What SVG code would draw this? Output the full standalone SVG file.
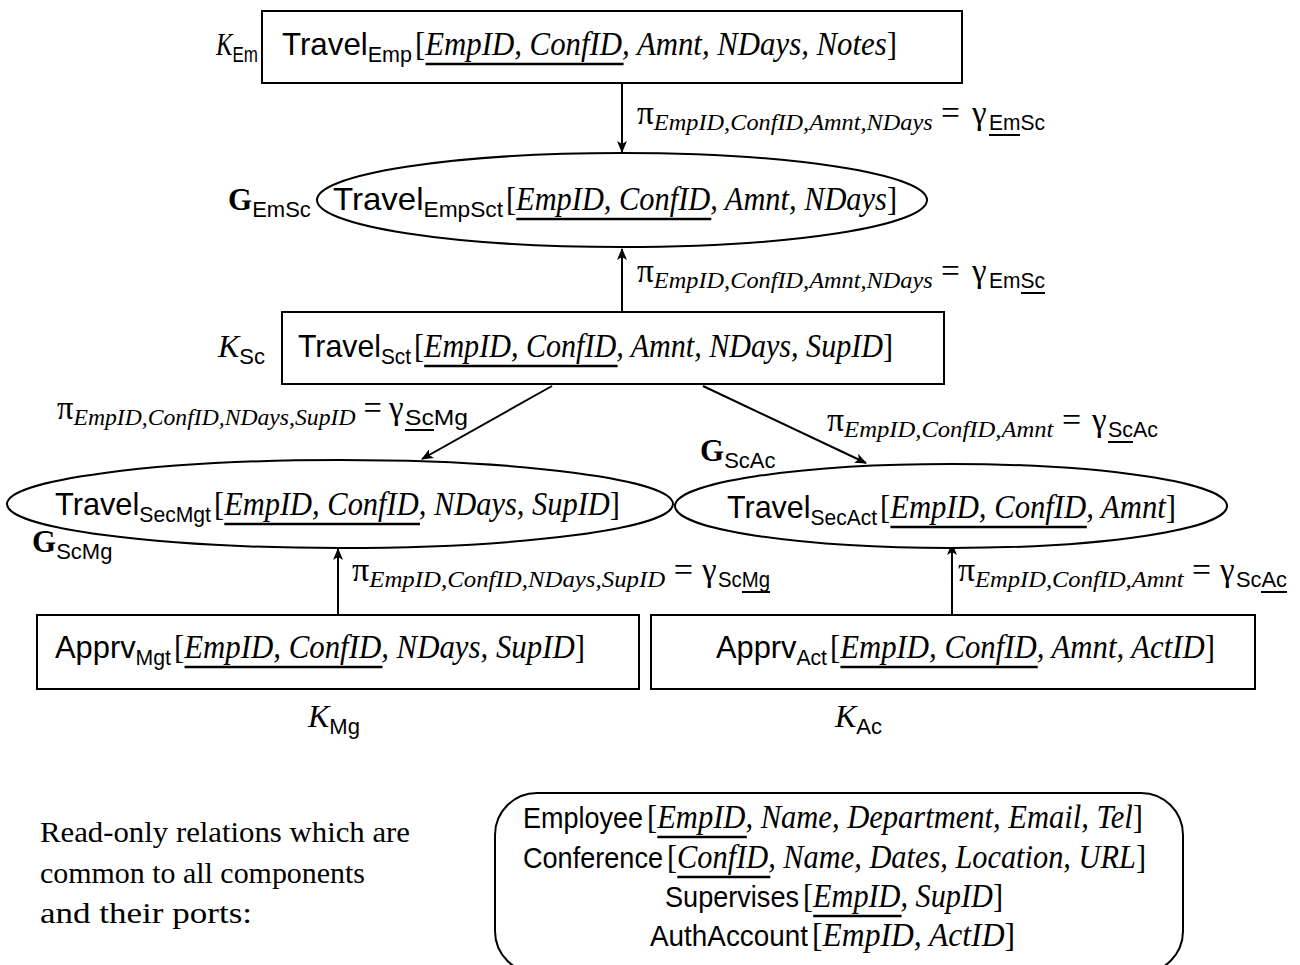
<svg xmlns="http://www.w3.org/2000/svg" width="1300" height="965" viewBox="0 0 1300 965">
<style>
text{fill:#000}
.sf{font-family:"Liberation Sans",Arial,sans-serif;font-size:32px}
.sb{font-family:"Liberation Sans",Arial,sans-serif;font-size:22px}
.it{font-family:"Liberation Serif","Times New Roman",serif;font-style:italic;font-size:34px}
.rm{font-family:"Liberation Serif","Times New Roman",serif;font-style:normal;font-size:34px}
.bf{font-family:"Liberation Serif","Times New Roman",serif;font-weight:bold;font-size:31px}
.k{font-family:"Liberation Serif","Times New Roman",serif;font-style:italic;font-size:32px}
.its{font-family:"Liberation Serif","Times New Roman",serif;font-style:italic;font-size:24px}
.gr{font-family:"Liberation Serif","Times New Roman",serif;font-style:normal;font-size:33px}
.tx{font-family:"Liberation Serif","Times New Roman",serif;font-size:30px}
.s2{font-family:"Liberation Sans",Arial,sans-serif;font-size:30px}
.i2{font-family:"Liberation Serif","Times New Roman",serif;font-style:italic;font-size:34px}
.r2{font-family:"Liberation Serif","Times New Roman",serif;font-style:normal;font-size:34px}
.shape{fill:#fff;stroke:#000;stroke-width:2}
.edge{fill:none;stroke:#000;stroke-width:2;marker-end:url(#arr)}
.ul{stroke:#000;stroke-width:2.4}
.uls{stroke:#000;stroke-width:2}
</style>
<defs>
<marker id="arr" viewBox="0 0 12 10" refX="11" refY="5" markerWidth="12" markerHeight="10" markerUnits="userSpaceOnUse" orient="auto">
<path d="M0,0 L12,5 L0,10 L3,5 z" fill="#000"/>
</marker>
</defs>

<g id="connectors">
<line class="edge" x1="622" y1="83" x2="622" y2="152"/>
<line class="edge" x1="622" y1="312" x2="622" y2="249"/>
<line class="edge" x1="552" y1="386" x2="422" y2="459"/>
<line class="edge" x1="703" y1="386" x2="866" y2="463"/>
<line class="edge" x1="338" y1="615" x2="338" y2="549"/>
<line class="edge" x1="952" y1="615" x2="952" y2="544"/>

<text x="637" y="124" textLength="323" lengthAdjust="spacingAndGlyphs"><tspan class="gr">π</tspan><tspan class="its" dy="6">EmpID,ConfID,Amnt,NDays</tspan><tspan class="gr" dy="-6"> =</tspan></text>
<text class="gr" x="972" y="124">γ</text>
<text class="sb" x="989" y="130" textLength="56" lengthAdjust="spacingAndGlyphs">EmSc</text>
<line class="uls" x1="989" y1="135" x2="1020" y2="135"/>

<text x="637" y="282" textLength="323" lengthAdjust="spacingAndGlyphs"><tspan class="gr">π</tspan><tspan class="its" dy="6">EmpID,ConfID,Amnt,NDays</tspan><tspan class="gr" dy="-6"> =</tspan></text>
<text class="gr" x="972" y="282">γ</text>
<text class="sb" x="989" y="288" textLength="56" lengthAdjust="spacingAndGlyphs">EmSc</text>
<line class="uls" x1="1021" y1="293" x2="1045" y2="293"/>

<text x="57" y="419" textLength="325" lengthAdjust="spacingAndGlyphs"><tspan class="gr">π</tspan><tspan class="its" dy="6">EmpID,ConfID,NDays,SupID</tspan><tspan class="gr" dy="-6"> =</tspan></text>
<text class="gr" x="389" y="419">γ</text>
<text class="sb" x="405" y="425" textLength="63" lengthAdjust="spacingAndGlyphs">ScMg</text>
<line class="uls" x1="405" y1="430" x2="434" y2="430"/>

<text x="827" y="431" textLength="254" lengthAdjust="spacingAndGlyphs"><tspan class="gr">π</tspan><tspan class="its" dy="6">EmpID,ConfID,Amnt</tspan><tspan class="gr" dy="-6"> =</tspan></text>
<text class="gr" x="1092" y="431">γ</text>
<text class="sb" x="1108" y="437" textLength="50" lengthAdjust="spacingAndGlyphs">ScAc</text>
<line class="uls" x1="1108" y1="442" x2="1133" y2="442"/>

<text x="352" y="581" textLength="341" lengthAdjust="spacingAndGlyphs"><tspan class="gr">π</tspan><tspan class="its" dy="6">EmpID,ConfID,NDays,SupID</tspan><tspan class="gr" dy="-6"> =</tspan></text>
<text class="gr" x="702" y="581">γ</text>
<text class="sb" x="718" y="587" textLength="52" lengthAdjust="spacingAndGlyphs">ScMg</text>
<line class="uls" x1="742" y1="592" x2="770" y2="592"/>

<text x="958" y="581" textLength="253" lengthAdjust="spacingAndGlyphs"><tspan class="gr">π</tspan><tspan class="its" dy="6">EmpID,ConfID,Amnt</tspan><tspan class="gr" dy="-6"> =</tspan></text>
<text class="gr" x="1220" y="581">γ</text>
<text class="sb" x="1236" y="587" textLength="51" lengthAdjust="spacingAndGlyphs">ScAc</text>
<line class="uls" x1="1261" y1="592" x2="1287" y2="592"/>
</g>

<g id="travel-emp">
<rect class="shape" x="262" y="11" width="700" height="72"/>
<text class="sf" x="282" y="55" textLength="130" lengthAdjust="spacingAndGlyphs">Travel<tspan class="sb" dy="7">Emp</tspan></text>
<text class="it" x="415" y="55" textLength="482" lengthAdjust="spacingAndGlyphs"><tspan class="rm">[</tspan>EmpID, ConfID, Amnt, NDays, Notes<tspan class="rm">]</tspan></text>
<line class="ul" x1="425.5" y1="64" x2="623.6" y2="64"/>
<text x="216" y="55" textLength="42" lengthAdjust="spacingAndGlyphs"><tspan class="k">K</tspan><tspan class="sb" dy="7">Em</tspan></text>
</g>

<g id="travel-empsct">
<ellipse class="shape" cx="622" cy="200" rx="305" ry="47"/>
<text class="sf" x="333" y="210" textLength="170" lengthAdjust="spacingAndGlyphs">Travel<tspan class="sb" dy="7">EmpSct</tspan></text>
<text class="it" x="506" y="210" textLength="391" lengthAdjust="spacingAndGlyphs"><tspan class="rm">[</tspan>EmpID, ConfID, Amnt, NDays<tspan class="rm">]</tspan></text>
<line class="ul" x1="516.3" y1="219" x2="711.3" y2="219"/>
<text x="228" y="210"><tspan class="bf">G</tspan><tspan class="sb" dy="7">EmSc</tspan></text>
</g>

<g id="travel-sct">
<rect class="shape" x="282" y="312" width="662" height="72"/>
<text class="sf" x="298" y="357" textLength="113" lengthAdjust="spacingAndGlyphs">Travel<tspan class="sb" dy="7">Sct</tspan></text>
<text class="it" x="414" y="357" textLength="479" lengthAdjust="spacingAndGlyphs"><tspan class="rm">[</tspan>EmpID, ConfID, Amnt, NDays, SupID<tspan class="rm">]</tspan></text>
<line class="ul" x1="424.2" y1="366" x2="617.6" y2="366"/>
<text x="218" y="357"><tspan class="k">K</tspan><tspan class="sb" dy="7">Sc</tspan></text>
</g>

<g id="travel-secmgt">
<ellipse class="shape" cx="340" cy="504" rx="333" ry="44"/>
<text class="sf" x="55" y="515" textLength="156" lengthAdjust="spacingAndGlyphs">Travel<tspan class="sb" dy="7">SecMgt</tspan></text>
<text class="it" x="214" y="515" textLength="406" lengthAdjust="spacingAndGlyphs"><tspan class="rm">[</tspan>EmpID, ConfID, NDays, SupID<tspan class="rm">]</tspan></text>
<line class="ul" x1="224.3" y1="524" x2="420" y2="524"/>
<text x="32" y="552"><tspan class="bf">G</tspan><tspan class="sb" dy="7">ScMg</tspan></text>
</g>

<g id="travel-secact">
<ellipse class="shape" cx="951" cy="506" rx="276" ry="42"/>
<text class="sf" x="727" y="518" textLength="150" lengthAdjust="spacingAndGlyphs">Travel<tspan class="sb" dy="7">SecAct</tspan></text>
<text class="it" x="880" y="518" textLength="296" lengthAdjust="spacingAndGlyphs"><tspan class="rm">[</tspan>EmpID, ConfID, Amnt<tspan class="rm">]</tspan></text>
<line class="ul" x1="890.4" y1="527" x2="1086.8" y2="527"/>
<text x="700" y="461"><tspan class="bf">G</tspan><tspan class="sb" dy="7">ScAc</tspan></text>
</g>

<g id="apprv-mgt">
<rect class="shape" x="37" y="615" width="602" height="74"/>
<text class="sf" x="55" y="658" textLength="116" lengthAdjust="spacingAndGlyphs">Apprv<tspan class="sb" dy="7">Mgt</tspan></text>
<text class="it" x="174" y="658" textLength="411" lengthAdjust="spacingAndGlyphs"><tspan class="rm">[</tspan>EmpID, ConfID, NDays, SupID<tspan class="rm">]</tspan></text>
<line class="ul" x1="184.5" y1="667" x2="382.5" y2="667"/>
<text x="308" y="727"><tspan class="k">K</tspan><tspan class="sb" dy="7">Mg</tspan></text>
</g>

<g id="apprv-act">
<rect class="shape" x="651" y="615" width="604" height="74"/>
<text class="sf" x="716" y="658" textLength="111" lengthAdjust="spacingAndGlyphs">Apprv<tspan class="sb" dy="7">Act</tspan></text>
<text class="it" x="830" y="658" textLength="385" lengthAdjust="spacingAndGlyphs"><tspan class="rm">[</tspan>EmpID, ConfID, Amnt, ActID<tspan class="rm">]</tspan></text>
<line class="ul" x1="840.4" y1="667" x2="1037.7" y2="667"/>
<text x="835" y="727"><tspan class="k">K</tspan><tspan class="sb" dy="7">Ac</tspan></text>
</g>

<g id="readonly-note">
<text class="tx" x="40" y="842" textLength="370" lengthAdjust="spacingAndGlyphs">Read-only relations which are</text>
<text class="tx" x="40" y="883" textLength="325" lengthAdjust="spacingAndGlyphs">common to all components</text>
<text class="tx" x="40" y="923" textLength="212" lengthAdjust="spacingAndGlyphs">and their ports:</text>
</g>

<g id="readonly-relations">
<rect class="shape" x="495" y="793" width="688" height="180" rx="42" ry="42"/>
<text class="s2" x="523" y="828" textLength="120" lengthAdjust="spacingAndGlyphs">Employee</text>
<text class="i2" x="647" y="828" textLength="496" lengthAdjust="spacingAndGlyphs"><tspan class="r2">[</tspan>EmpID, Name, Department, Email, Tel<tspan class="r2">]</tspan></text>
<line class="ul" x1="657.3" y1="837" x2="746.8" y2="837"/>
<text class="s2" x="523" y="868" textLength="140" lengthAdjust="spacingAndGlyphs">Conference</text>
<text class="i2" x="667" y="868" textLength="479" lengthAdjust="spacingAndGlyphs"><tspan class="r2">[</tspan>ConfID, Name, Dates, Location, URL<tspan class="r2">]</tspan></text>
<line class="ul" x1="677.3" y1="877" x2="770.3" y2="877"/>
<text class="s2" x="665" y="907" textLength="134" lengthAdjust="spacingAndGlyphs">Supervises</text>
<text class="i2" x="803" y="907" textLength="200" lengthAdjust="spacingAndGlyphs"><tspan class="r2">[</tspan>EmpID, SupID<tspan class="r2">]</tspan></text>
<line class="ul" x1="813.2" y1="916" x2="901.6" y2="916"/>
<text class="s2" x="650" y="946" textLength="158" lengthAdjust="spacingAndGlyphs">AuthAccount</text>
<text class="i2" x="812" y="946" textLength="203" lengthAdjust="spacingAndGlyphs"><tspan class="r2">[</tspan>EmpID, ActID<tspan class="r2">]</tspan></text>
</g>
</svg>
